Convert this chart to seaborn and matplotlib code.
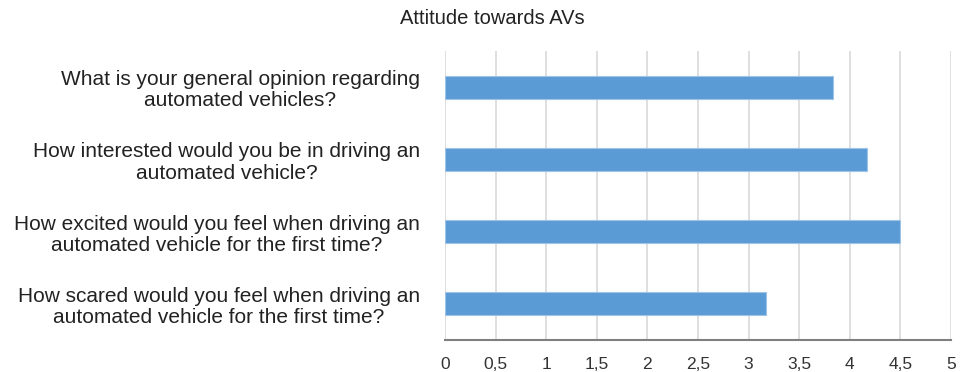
import matplotlib
matplotlib.use("Agg")
import matplotlib.pyplot as plt
import seaborn as sns
import pandas as pd

questions = [
    "What is your general opinion regarding\nautomated vehicles?",
    "How interested would you be in driving an\nautomated vehicle?",
    "How excited would you feel when driving an\nautomated vehicle for the first time?",
    "How scared would you feel when driving an\nautomated vehicle for the first time?",
]
scores = [3.83, 4.17, 4.50, 3.17]
x_ticks = [0, 0.5, 1, 1.5, 2, 2.5, 3, 3.5, 4, 4.5, 5]
x_tick_labels = ["0", "0,5", "1", "1,5", "2", "2,5", "3", "3,5", "4", "4,5", "5"]
title = "Attitude towards AVs"

df = pd.DataFrame({"question": questions, "score": scores})

sns.set_theme(style="white")
plt.rcParams["font.family"] = ["Liberation Sans", "DejaVu Sans"]

fig = plt.figure(figsize=(9.73, 3.72), dpi=100)
ax = fig.add_axes([445 / 973, 1 - 340 / 372, 506 / 973, 289 / 372])

sns.barplot(data=df, x="score", y="question", orient="h", width=0.32,
            color="#5B9BD5", saturation=1, edgecolor="#9DC3E6", linewidth=0.8,
            ax=ax)

ax.set_xlim(0, 5)
ax.set_xticks(x_ticks)
ax.set_xticklabels(x_tick_labels, fontsize=12.5, color="#333333")
ax.set_xlabel("")
ax.set_ylabel("")
ax.grid(axis="x", color="#D9D9D9", linewidth=1.2)
ax.set_axisbelow(True)
for side in ["top", "right", "left"]:
    ax.spines[side].set_visible(False)
ax.spines["bottom"].set_color("#7F7F7F")
ax.spines["bottom"].set_linewidth(1.5)
ax.tick_params(axis="x", length=0, pad=12)
ax.tick_params(axis="y", length=0, pad=18)
for lbl in ax.get_yticklabels():
    lbl.set_multialignment("center")
    lbl.set_fontsize(15)
    lbl.set_linespacing(1.15)
    lbl.set_color("#222222")

fig.text(492 / 973, 1 - 18 / 372, title, ha="center", va="center",
         fontsize=14.5, color="#222222")

fig.savefig("out.png", dpi=100, facecolor="white")
